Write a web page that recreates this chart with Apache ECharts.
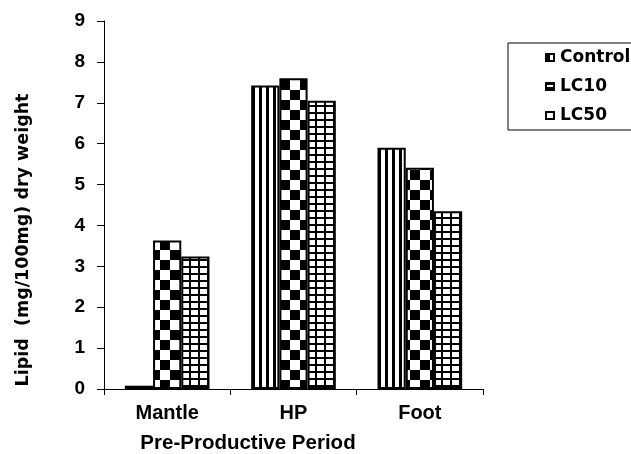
<!DOCTYPE html>
<html>
<head>
<meta charset="utf-8">
<script src="https://cdn.jsdelivr.net/npm/echarts@6/dist/echarts.min.js"></script>
<style>
  html, body { margin: 0; padding: 0; background: #fff; }
  #box { width: 631px; height: 454px; }
</style>
</head>
<body>
<div id="box"></div>
<script>
// 数据
const categories = ['Mantle', 'HP', 'Foot'];
const seriesNames = ['Control', 'LC10', 'LC50'];
const controlValues = [0.08, 7.42, 5.9];
const lc10Values = [3.63, 7.6, 5.41];
const lc50Values = [3.24, 7.05, 4.35];

const FONT = 'Liberation Sans';
const WIDE_FONT = 'DejaVu Sans';

// 画一个小画布用作填充图案
function makeCanvas(w, h, draw) {
    const c = document.createElement('canvas');
    c.width = w;
    c.height = h;
    const ctx = c.getContext('2d');
    ctx.fillStyle = '#fff';
    ctx.fillRect(0, 0, w, h);
    ctx.fillStyle = '#000';
    draw(ctx, w, h);
    return c;
}

// Control: 竖条纹
const stripes = makeCanvas(7, 7, function (ctx) {
    ctx.fillRect(0, 0, 3, 7);
});
// LC10: 棋盘格
const checker = makeCanvas(20, 20, function (ctx) {
    ctx.fillRect(0, 0, 10, 10);
    ctx.fillRect(10, 10, 10, 10);
});
// LC50: 网格
const grid = makeCanvas(9, 7, function (ctx) {
    ctx.fillRect(0, 0, 2, 7);
    ctx.fillRect(0, 0, 9, 2);
});

// 图例小图标
const iconControl = makeCanvas(10, 9, function (ctx, w, h) {
    ctx.fillRect(0, 0, 5, h);
    ctx.fillRect(0, 0, w, 2);
    ctx.fillRect(0, h - 2, w, 2);
    ctx.fillRect(w - 2, 0, 2, h);
});
const iconLC10 = makeCanvas(10, 9, function (ctx, w, h) {
    ctx.fillRect(0, 0, w, h);
    ctx.fillStyle = '#fff';
    ctx.fillRect(2, 3, 6, 2);
});
const iconLC50 = makeCanvas(10, 9, function (ctx, w, h) {
    ctx.fillRect(0, 0, w, h);
    ctx.fillStyle = '#fff';
    ctx.fillRect(2, 2, w - 4, h - 4);
});

const patterns = [stripes, checker, grid];
const icons = [iconControl, iconLC10, iconLC50];
const values = [controlValues, lc10Values, lc50Values];

let chart = echarts.init(document.getElementById('box'));

let seriesList = seriesNames.map(function (name, i) {
    return {
        name: name,
        type: 'bar',
        data: values[i],
        barGap: 0,
        barCategoryGap: '33%',
        animation: false,
        itemStyle: {
            color: { image: patterns[i], repeat: 'repeat' },
            borderColor: '#000',
            borderWidth: 2
        }
    };
});

let option = {
    backgroundColor: '#fff',
    animation: false,
    grid: {
        left: 104,
        right: 148,
        top: 21,
        bottom: 65
    },
    legend: {
        orient: 'vertical',
        left: 508,
        top: 43,
        selectedMode: false,
        itemWidth: 10,
        itemHeight: 9,
        itemGap: 12,
        padding: [6, 40, 6, 37],
        borderColor: '#000',
        borderWidth: 1,
        data: seriesNames.map(function (name, i) {
            return { name: name, icon: 'image://' + icons[i].toDataURL() };
        }),
        textStyle: {
            fontFamily: WIDE_FONT,
            fontWeight: 'bold',
            fontSize: 17,
            color: '#000',
            lineHeight: 16
        }
    },
    xAxis: {
        type: 'category',
        data: categories,
        axisLine: { lineStyle: { color: '#000', width: 1 } },
        axisTick: { show: true, length: 6, lineStyle: { color: '#000' } },
        axisLabel: {
            margin: 14,
            fontFamily: FONT,
            fontWeight: 'bold',
            fontSize: 20,
            color: '#000'
        }
    },
    yAxis: {
        type: 'value',
        min: 0,
        max: 9,
        interval: 1,
        splitLine: { show: false },
        axisLine: { show: true, lineStyle: { color: '#000', width: 1 } },
        axisTick: { show: true, length: 7, lineStyle: { color: '#000' } },
        axisLabel: {
            margin: 19,
            fontFamily: FONT,
            fontWeight: 'bold',
            fontSize: 19,
            color: '#000'
        }
    },
    graphic: [
        {
            type: 'text',
            x: 23,
            y: 240,
            rotation: Math.PI / 2,
            style: {
                text: 'Lipid  (mg/100mg) dry weight',
                font: 'bold 17.5px "DejaVu Sans"',
                fill: '#000',
                align: 'center',
                verticalAlign: 'middle'
            }
        },
        {
            type: 'text',
            x: 248,
            y: 443,
            style: {
                text: 'Pre-Productive Period',
                font: 'bold 20.5px "Liberation Sans"',
                fill: '#000',
                align: 'center',
                verticalAlign: 'middle'
            }
        }
    ],
    series: seriesList
};

chart.setOption(option);
</script>
</body>
</html>
